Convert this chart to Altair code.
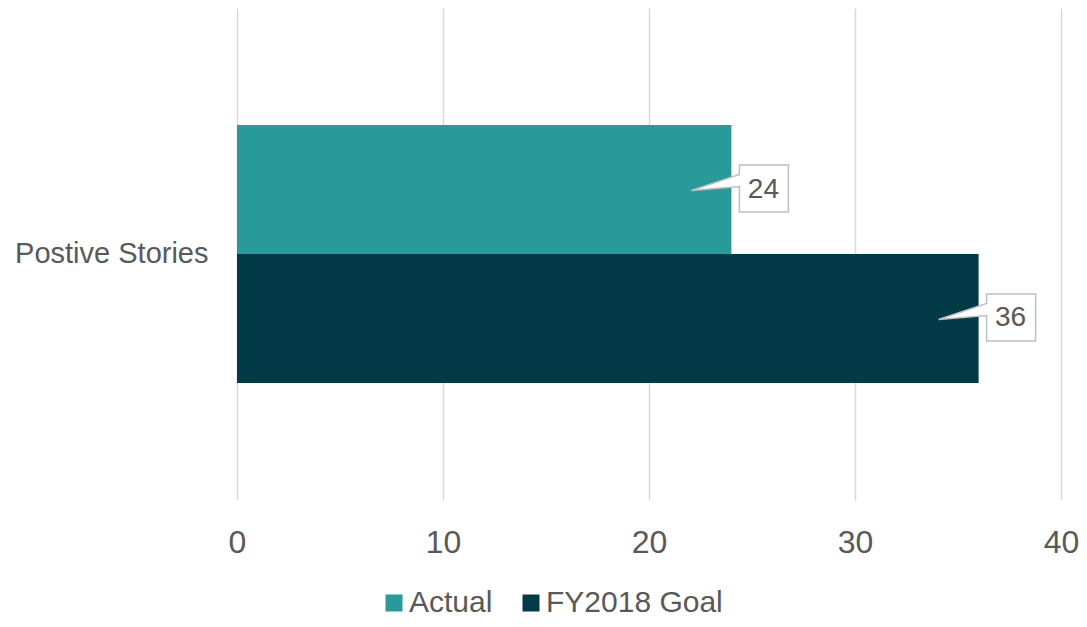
import altair as alt
import pandas as pd

categories = ["Postive Stories"]
series = ["Actual", "FY2018 Goal"]
values = [24, 36]
colors = ["#2a999a", "#023a48"]
x_ticks = [0, 10, 20, 30, 40]

df = pd.DataFrame({
    "category": [categories[0]] * len(series),
    "series": series,
    "value": values,
})

FONT = "Liberation Sans"
TXT = "#595959"
W, H = 824, 492

x_enc = alt.X(
    "value:Q",
    scale=alt.Scale(domain=[0, 40], nice=False),
    axis=alt.Axis(values=x_ticks, title=None, ticks=False, domain=False, grid=True,
                  gridColor="#d9d9d9", gridWidth=1.5, labelFontSize=32,
                  labelColor=TXT, labelFont=FONT, labelPadding=27, labelFlush=False),
)
y_enc = alt.Y(
    "category:N",
    scale=alt.Scale(paddingInner=0, paddingOuter=0.4535),
    axis=alt.Axis(title=None, ticks=False, domain=False, grid=False, labelFontSize=29,
                  labelColor=TXT, labelFont=FONT, labelPadding=29, labelLimit=0),
)
off_enc = alt.YOffset("series:N", sort=series,
                      scale=alt.Scale(domain=series, paddingInner=0, paddingOuter=0))

base = alt.Chart(df).encode(x=x_enc, y=y_enc, yOffset=off_enc)

bars = base.mark_bar().encode(
    color=alt.Color(
        "series:N",
        scale=alt.Scale(domain=series, range=colors),
        legend=alt.Legend(orient="none", legendX=142, legendY=580, direction="horizontal",
                          title=None, symbolType="square", symbolSize=289,
                          symbolStrokeWidth=0, labelFontSize=30, labelColor=TXT,
                          labelFont=FONT, columnPadding=23, labelOffset=0,
                          labelLimit=0, padding=0),
    )
)

callout_path = "M -40 1 L 8 -15 L 8 -24.5 L 57 -24.5 L 57 22.5 L 8 22.5 L 8 -3 Z"
callouts = base.mark_point(shape=callout_path, size=4, filled=True, fill="white",
                           stroke="#bfbfbf", strokeWidth=1.5, opacity=1)

labels = base.mark_text(dx=32, fontSize=28, font=FONT, color=TXT, align="center",
                        baseline="middle").encode(text=alt.Text("value:Q"))

chart = (bars + callouts + labels).properties(
    width=W, height=H,
    autosize=alt.AutoSizeParams(type="none"),
    padding={"left": 229, "top": 0, "right": 18, "bottom": 119},
).configure_view(stroke=None)

chart.save("out.html", embed_options={"renderer": "svg", "actions": False})
